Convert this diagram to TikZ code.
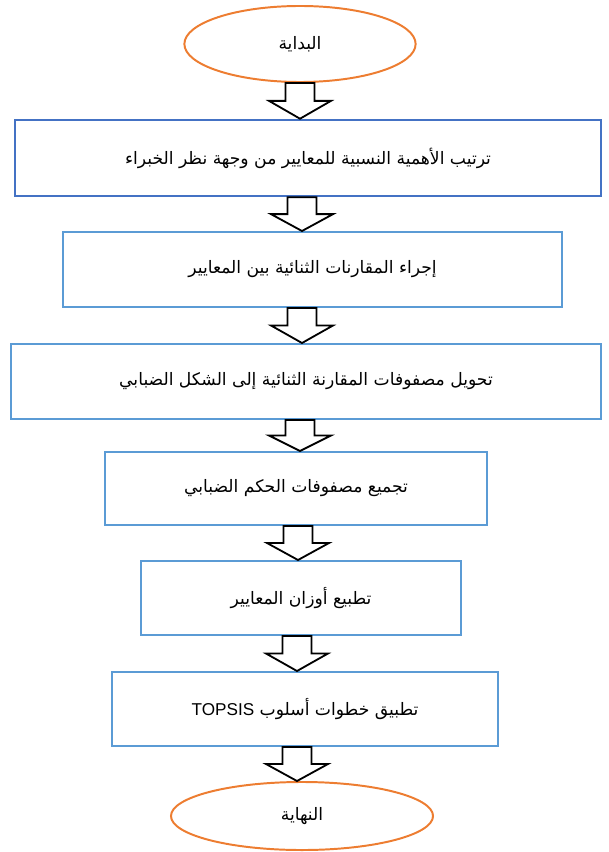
\documentclass[tikz,border=0pt]{standalone}
\usepackage{fontspec}
\newfontfamily\arabicfont[Script=Arabic]{DejaVu Sans}
\newfontfamily\latinfont{Liberation Sans}
\TeXXeTstate=1
\definecolor{flowBlue}{HTML}{4472C4}
\definecolor{flowLight}{HTML}{5B9BD5}
\definecolor{flowOrange}{HTML}{ED7D31}
\usetikzlibrary{shapes.geometric, calc}
\newcommand{\artext}[1]{{\arabicfont\beginR #1\endR}}

\begin{document}
\begin{tikzpicture}[
    x=0.025cm, y=-0.025cm,
    procbox/.style={rectangle, draw=flowLight, line width=1.4pt, inner sep=0pt,
                    font=\fontsize{12.2}{14}\selectfont},
    firstbox/.style={procbox, draw=flowBlue, line width=1.8pt},
    terminal/.style={ellipse, draw=flowOrange, line width=1.4pt, inner sep=0pt,
                     font=\fontsize{12.2}{14}\selectfont},
    hollowarrow/.style={draw=black, line width=1.3pt, fill=white, line join=miter}
]
    \useasboundingbox (0,0) rectangle (608,852);

    \node[terminal, minimum width=5.78cm, minimum height=1.9cm]  (start)     at (300,44)    {\artext{البداية}};
    \node[firstbox, minimum width=14.65cm, minimum height=1.9cm] (rank)      at (308,158)   {\artext{ترتيب الأهمية النسبية للمعايير من وجهة نظر الخبراء}};
    \node[procbox, minimum width=12.48cm, minimum height=1.875cm] (pairwise) at (312.5,269.5) {\artext{إجراء المقارنات الثنائية بين المعايير}};
    \node[procbox, minimum width=14.75cm, minimum height=1.875cm] (fuzzify)  at (306,381.5) {\artext{تحويل مصفوفات المقارنة الثنائية إلى الشكل الضبابي}};
    \node[procbox, minimum width=9.55cm, minimum height=1.825cm] (aggregate) at (296,488.5) {\artext{تجميع مصفوفات الحكم الضبابي}};
    \node[procbox, minimum width=8cm, minimum height=1.85cm]     (normalize) at (301,598)   {\artext{تطبيع أوزان المعايير}};
    \node[procbox, minimum width=9.65cm, minimum height=1.85cm]  (topsis)    at (305,709)   {\artext{تطبيق خطوات أسلوب \beginL{\latinfont TOPSIS}\endL}};
    \node[terminal, minimum width=6.55cm, minimum height=1.7cm]  (finish)    at (302,816)   {\artext{النهاية}};

    % hollow block arrows between the steps
    \foreach \a/\b/\cx in {start/rank/300, rank/pairwise/302, pairwise/fuzzify/302,
                           fuzzify/aggregate/300, aggregate/normalize/298,
                           normalize/topsis/297, topsis/finish/297}{
        \coordinate (acol) at (\cx,0);
        \coordinate (atop) at (acol |- \a.south);
        \coordinate (atip) at (acol |- \b.north);
        \coordinate (amid) at ($(atop)!0.5!(atip)$);
        \draw[hollowarrow] ($(atop)+(-14.5,0)$) -- ($(atop)+(14.5,0)$) -- ($(amid)+(14.5,0)$)
            -- ($(amid)+(31,0)$) -- (atip) -- ($(amid)+(-31,0)$) -- ($(amid)+(-14.5,0)$) -- cycle;
    }
\end{tikzpicture}
\end{document}
